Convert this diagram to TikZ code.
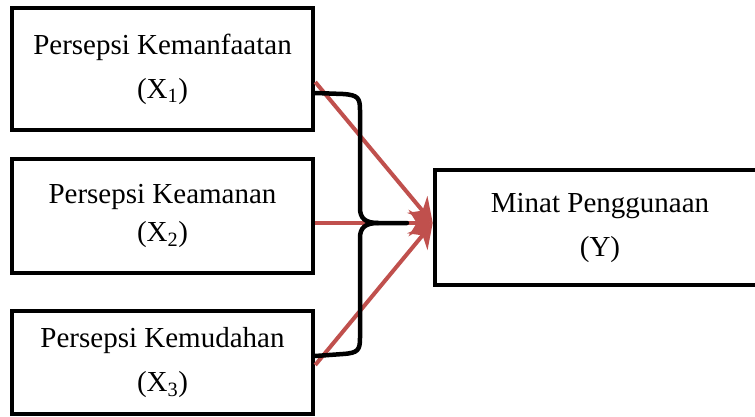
\documentclass[tikz,border=0pt]{standalone}
\usepackage{fontspec}
\setmainfont{Liberation Serif}
\usetikzlibrary{arrows.meta}
\definecolor{arrred}{RGB}{192,80,77}
\begin{document}
\begin{tikzpicture}[x=1pt,y=-1pt,
  box/.style={draw=black, line width=4.5pt, fill=white, align=center,
    font=\fontsize{29}{44}\selectfont, inner sep=0pt},
  conn/.style={draw=arrred, line width=4pt,
    -{Stealth[length=24pt,width=26pt,inset=8pt]}},
  bracepath/.style={draw=black, line width=4.5pt, line cap=round, line join=round}]
\clip (0,0) rectangle (755,417);
\fill[white] (0,0) rectangle (755,417);
% boxes
\node[box, minimum width=301pt, minimum height=122pt] (x1) at (162.5,69)
  {Persepsi Kemanfaatan\\(X\textsubscript{1})};
\node[box, minimum width=301pt, minimum height=114pt] (x2) at (162.5,216)
  {Persepsi Keamanan\\[-6pt](X\textsubscript{2})};
\node[box, minimum width=301pt, minimum height=103pt] (x3) at (162.5,362.5)
  {Persepsi Kemudahan\\(X\textsubscript{3})};
\node[box, minimum width=330pt, minimum height=115pt] (y) at (600,227.5)
  {Minat Penggunaan\\(Y)};
% arrows
\draw[conn] ([yshift=-13pt]x1.east) -- ([yshift=4.5pt]y.west);
\draw[conn] ([yshift=-7pt]x2.east) -- ([yshift=4.5pt]y.west);
\draw[conn] ([yshift=-2.5pt]x3.east) -- ([yshift=4.5pt]y.west);
% brace
\coordinate (b1) at ([yshift=-24pt]x1.east);
\coordinate (b3) at ([yshift=6.5pt]x3.east);
\coordinate (bm) at (378,223);
\coordinate (bt) at (407,223);
\draw[bracepath] (b1) -- (343,94) .. controls (358,95) and (360,98) .. (360,110)
  -- (360,208) .. controls (360,218) and (365,223) .. (bm) -- (bt);
\draw[bracepath] (bm) .. controls (365,223) and (360,228) .. (360,238)
  -- (360,338) .. controls (360,350) and (358,353) .. (343,354) -- (b3);
\end{tikzpicture}
\end{document}
